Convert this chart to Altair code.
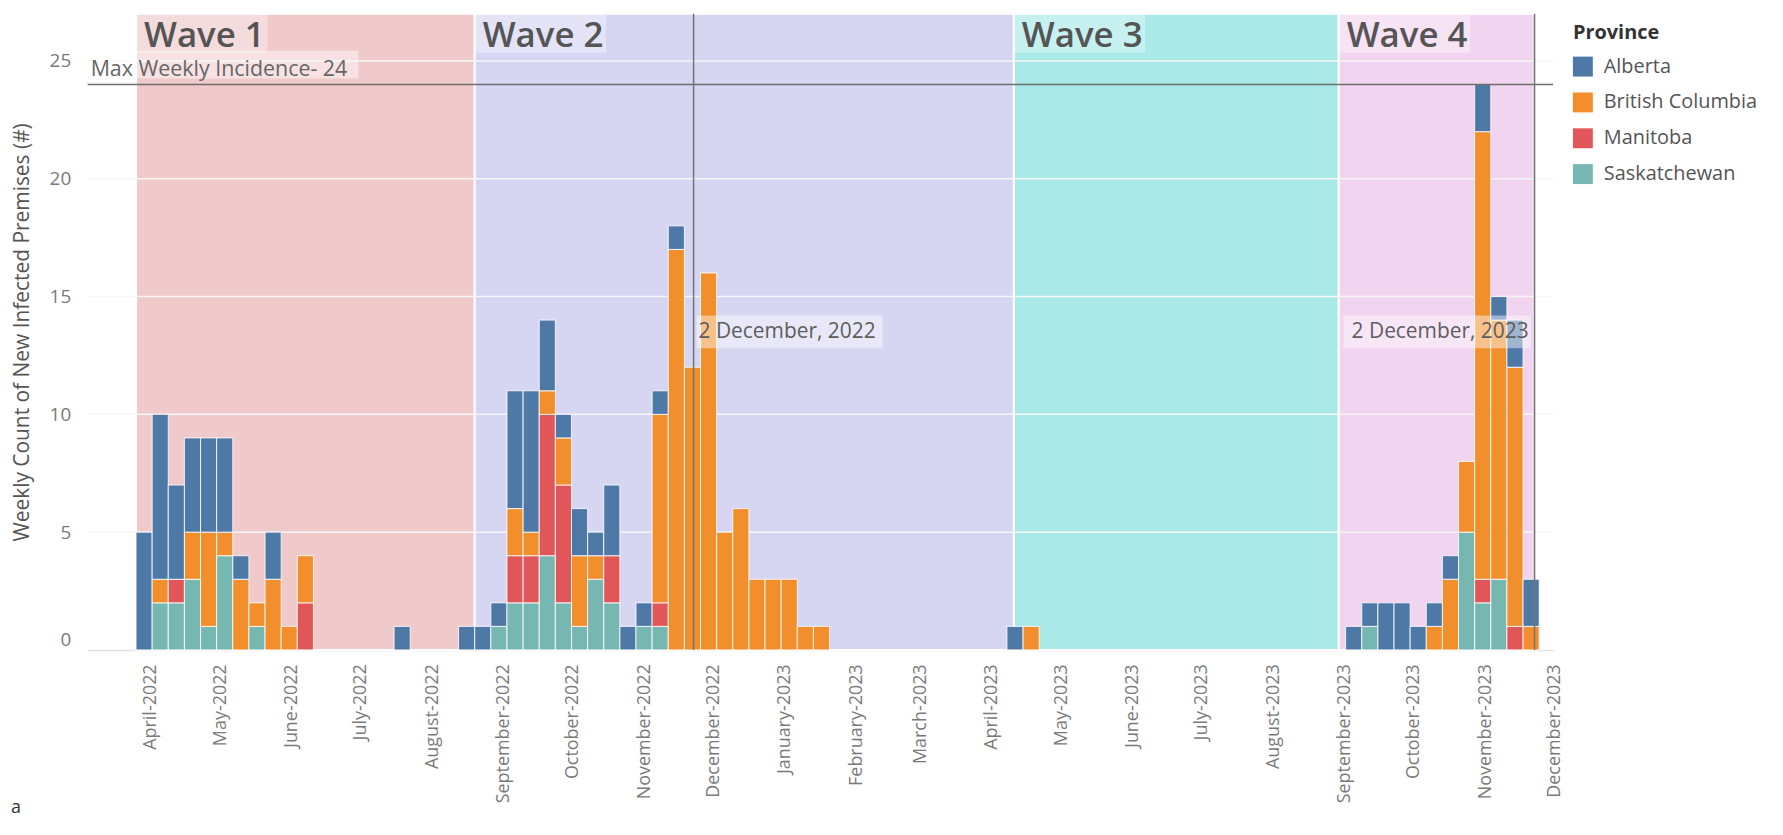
import altair as alt
import pandas as pd

# ---------------- data ----------------
provinces = ["Alberta", "British Columbia", "Manitoba", "Saskatchewan"]
province_colors = ["#4e79a7", "#f28e2b", "#e15759", "#76b7b2"]
stack_order = ["Saskatchewan", "Manitoba", "British Columbia", "Alberta"]

week_start = [
    "2022-04-04", "2022-04-11", "2022-04-18", "2022-04-25", "2022-05-02", "2022-05-09",
    "2022-05-16", "2022-05-23", "2022-05-30", "2022-06-06", "2022-06-13", "2022-07-25",
    "2022-08-22", "2022-08-29", "2022-09-05", "2022-09-12", "2022-09-19", "2022-09-26",
    "2022-10-03", "2022-10-10", "2022-10-17", "2022-10-24", "2022-10-31", "2022-11-07",
    "2022-11-14", "2022-11-21", "2022-11-28", "2022-12-05", "2022-12-12", "2022-12-19",
    "2022-12-26", "2023-01-02", "2023-01-09", "2023-01-16", "2023-01-23", "2023-04-17",
    "2023-04-24", "2023-09-11", "2023-09-18", "2023-09-25", "2023-10-02", "2023-10-09",
    "2023-10-16", "2023-10-23", "2023-10-30", "2023-11-06", "2023-11-13", "2023-11-20",
    "2023-11-27",
]
alberta = [
    5, 7, 4, 4, 4, 4, 1, 0, 2, 0, 0, 1,
    1, 1, 1, 5, 6, 3, 1, 2, 1, 3, 1, 1,
    1, 1, 0, 0, 0, 0, 0, 0, 0, 0, 0, 1,
    0, 1, 1, 2, 2, 1, 1, 1, 0, 2, 1, 2,
    2,
]
british_columbia = [
    0, 1, 0, 2, 4, 1, 3, 1, 3, 1, 2, 0,
    0, 0, 0, 2, 1, 1, 2, 3, 1, 0, 0, 0,
    8, 17, 12, 16, 5, 6, 3, 3, 3, 1, 1, 0,
    1, 0, 0, 0, 0, 0, 1, 3, 3, 19, 11, 11,
    1,
]
manitoba = [
    0, 0, 1, 0, 0, 0, 0, 0, 0, 0, 2, 0,
    0, 0, 0, 2, 2, 6, 5, 0, 0, 2, 0, 0,
    1, 0, 0, 0, 0, 0, 0, 0, 0, 0, 0, 0,
    0, 0, 0, 0, 0, 0, 0, 0, 0, 1, 0, 1,
    0,
]
saskatchewan = [
    0, 2, 2, 3, 1, 4, 0, 1, 0, 0, 0, 0,
    0, 0, 1, 2, 2, 4, 2, 1, 3, 2, 0, 1,
    1, 0, 0, 0, 0, 0, 0, 0, 0, 0, 0, 0,
    0, 0, 1, 0, 0, 0, 0, 0, 5, 2, 3, 0,
    0,
]

wave_names = ["Wave 1", "Wave 2", "Wave 3", "Wave 4"]
wave_start = ["2022-04-04", "2022-08-29", "2023-04-20", "2023-09-08"]
wave_end = ["2022-08-29", "2023-04-20", "2023-09-08", "2023-12-02"]
wave_colors = ["#f0c9ca", "#d6d6f2", "#a9eae8", "#f1d4ef"]

ref_dates = ["2022-12-02", "2023-12-02"]
ref_labels = ["2 December, 2022", "2 December, 2023"]
max_weekly = 24
max_label = "Max Weekly Incidence- 24"

y_ticks = [0, 5, 10, 15, 20, 25]
y_top = 27.0
month_ticks = [(2022, m) for m in range(4, 13)] + [(2023, m) for m in range(1, 13)]

FONT = "Open Sans"
W, H = 1472, 639

# ---------------- tables ----------------
series = {
    "Alberta": alberta,
    "British Columbia": british_columbia,
    "Manitoba": manitoba,
    "Saskatchewan": saskatchewan,
}
rows = []
for i, ws in enumerate(week_start):
    base = 0
    start = pd.Timestamp(ws)
    end = (start + pd.Timedelta(days=7)).strftime("%Y-%m-%d")
    for prov in stack_order:
        v = series[prov][i]
        if v > 0:
            rows.append({"week": ws, "week_end": end, "province": prov,
                         "count": v, "y0": base, "y1": base + v})
            base += v
bars_df = pd.DataFrame(rows)

bands_df = pd.DataFrame({
    "wave": wave_names, "start": wave_start, "end": wave_end,
    "fillc": wave_colors, "ylo": [0] * 4, "yhi": [y_top] * 4,
})
ref_df = pd.DataFrame({"date": ref_dates, "label": ref_labels})
grid_df = pd.DataFrame({"v": y_ticks[1:]})
max_df = pd.DataFrame({"v": [max_weekly], "label": [max_label]})

xscale = alt.Scale(
    type="utc",
    domain=[alt.DateTime(year=2022, month=3, date=14, utc=True),
            alt.DateTime(year=2023, month=12, date=10, utc=True)],
)
yscale = alt.Scale(domain=[0, y_top], nice=False, zero=True)

xaxis = alt.Axis(
    values=[alt.DateTime(year=y, month=m, date=1, utc=True) for y, m in month_ticks],
    format="%B-%Y", labelAngle=270, labelFontSize=18, labelColor="#7a7a7a",
    labelFont=FONT, ticks=False, grid=False, domainColor="#e2e2e2", domainWidth=1.5,
    labelPadding=14, labelOffset=22, labelOverlap=False, labelFlush=False, title=None,
)
yaxis = alt.Axis(
    values=y_ticks, grid=False, domain=False, ticks=False, labelFontSize=19,
    labelColor="#7a7a7a", labelFont=FONT, labelPadding=17, labelFlush=True,
    title="Weekly Count of New Infected Premises (#)", titleFontSize=21,
    titleColor="#555555", titleFont=FONT, titleFontWeight="normal", titlePadding=17,
)


def X(field):
    return alt.X(field, scale=xscale, axis=xaxis)


def Y(field):
    return alt.Y(field, scale=yscale, axis=yaxis)


bands = alt.Chart(bands_df).mark_rect(stroke="white", strokeWidth=2).encode(
    x=X("start:T"), x2="end:T", y=Y("ylo:Q"), y2="yhi:Q",
    fill=alt.Fill("fillc:N", scale=None),
)

grid = alt.Chart(grid_df).mark_rule(color="#f6f6f6", strokeWidth=1.5).encode(y=Y("v:Q"))

bars = alt.Chart(bars_df).mark_rect(stroke="white", strokeWidth=1, strokeOpacity=0.85).encode(
    x=X("week:T"), x2="week_end:T", y=Y("y0:Q"), y2="y1:Q",
    color=alt.Color(
        "province:N",
        scale=alt.Scale(domain=provinces, range=province_colors),
        legend=alt.Legend(
            title="Province", orient="none", legendX=1492, legendY=9,
            titleFontSize=20, titleFont=FONT, titleColor="#333333", titleFontWeight="bold",
            titlePadding=14, labelFontSize=20, labelFont=FONT, labelColor="#555555",
            symbolType="square", symbolSize=400, symbolStrokeWidth=0, symbolOpacity=1,
            rowPadding=16, labelOffset=11,
        ),
    ),
)

ref_rules = alt.Chart(ref_df).mark_rule(color="#747474", strokeWidth=1.5).encode(x=X("date:T"))
max_rule = alt.Chart(max_df).mark_rule(color="#6e6e6e", strokeWidth=1.5).encode(y=Y("v:Q"))

wave_box = alt.Chart(bands_df).mark_rect(color="white", opacity=0.35, x2Offset=132).encode(
    x=X("start:T"), x2="start:T", y=alt.value(0), y2=alt.value(39),
)
wave_text = alt.Chart(bands_df).mark_text(
    align="left", baseline="alphabetic", dx=8, fontSize=35, font=FONT,
    fontWeight=600, color="#555555",
).encode(x=X("start:T"), y=alt.value(33), text="wave:N")

max_box = alt.Chart(max_df).mark_rect(color="white", opacity=0.45, yOffset=-34, y2Offset=-6).encode(
    x=alt.value(-3), x2=alt.value(272), y=Y("v:Q"), y2="v:Q",
)
max_text = alt.Chart(max_df).mark_text(
    align="left", baseline="alphabetic", dy=-9, fontSize=21.5, font=FONT, color="#666666",
).encode(x=alt.value(3), y=Y("v:Q"), text="label:N")

ref1 = ref_df.iloc[[0]]
ref2 = ref_df.iloc[[1]]
ref_box1 = alt.Chart(ref1).mark_rect(color="white", opacity=0.45, xOffset=3, x2Offset=190).encode(
    x=X("date:T"), x2="date:T", y=alt.value(303), y2=alt.value(336),
)
ref_text1 = alt.Chart(ref1).mark_text(
    align="left", baseline="middle", dx=5, fontSize=21, font=FONT, color="#5e5e5e",
).encode(x=X("date:T"), y=alt.value(320), text="label:N")
ref_box2 = alt.Chart(ref2).mark_rect(color="white", opacity=0.45, xOffset=-192, x2Offset=-4).encode(
    x=X("date:T"), x2="date:T", y=alt.value(303), y2=alt.value(336),
)
ref_text2 = alt.Chart(ref2).mark_text(
    align="right", baseline="middle", dx=-6, fontSize=21, font=FONT, color="#5e5e5e",
).encode(x=X("date:T"), y=alt.value(320), text="label:N")

panel = alt.Chart(pd.DataFrame({"t": ["a"]})).mark_text(
    align="left", baseline="middle", fontSize=18, font=FONT, color="#333333",
).encode(x=alt.value(-77), y=alt.value(798), text="t:N")

chart = alt.layer(
    bands, grid, bars, ref_rules, max_rule, wave_box, wave_text,
    max_box, max_text, ref_box1, ref_text1, ref_box2, ref_text2, panel,
).properties(
    width=W, height=H,
    padding={"left": 80, "top": 4, "right": 223, "bottom": 176},
    autosize=alt.AutoSizeParams(type="none"),
).configure(font=FONT).configure_view(stroke=None)

chart.save("out.html", embed_options={"renderer": "svg", "actions": False})
